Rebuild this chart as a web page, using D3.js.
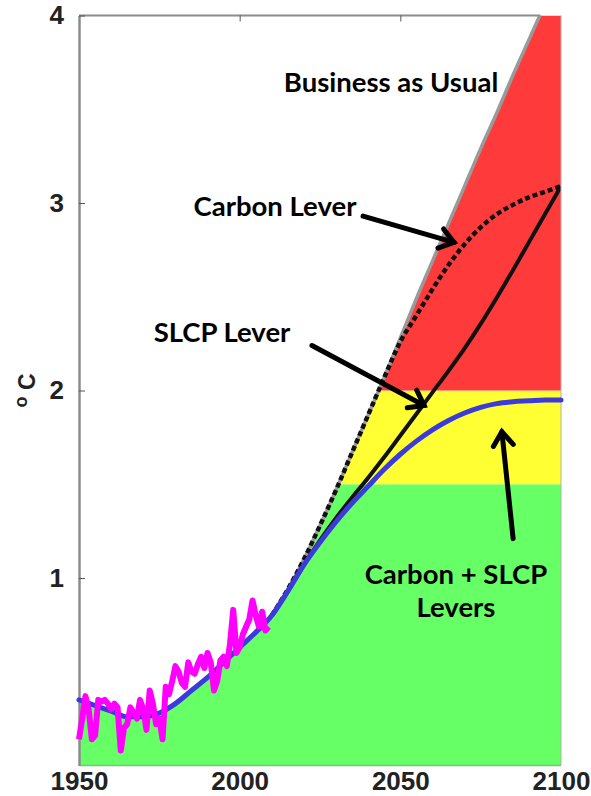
<!DOCTYPE html>
<html>
<head>
<meta charset="utf-8">
<script src="https://cdn.jsdelivr.net/npm/d3@7"></script>
<style>
  html, body { margin: 0; padding: 0; background: #fff; }
  svg { display: block; }
</style>
</head>
<body>
<svg id="chart" width="591" height="796"></svg>
<script>
// ---------- DATA ----------
const modelYears = [1950,1955,1960,1965,1970,1975,1980,1985,1990,1995,2000,2005,2010,2015,2020,2025,2030,2035,2040,2045,2050,2055,2060,2065,2070,2075,2080,2085,2090,2095,2100];
const businessAsUsual = [0.35,0.32,0.29,0.26,0.26,0.28,0.33,0.40,0.47,0.55,0.63,0.71,0.80,0.94,1.10,1.28,1.47,1.67,1.87,2.07,2.28,2.49,2.69,2.89,3.09,3.29,3.48,3.68,3.87,4.06,4.25];
const carbonLever     = [0.35,0.32,0.29,0.26,0.26,0.28,0.33,0.40,0.47,0.55,0.63,0.71,0.80,0.94,1.10,1.28,1.47,1.67,1.87,2.07,2.26,2.40,2.54,2.67,2.78,2.87,2.94,2.99,3.03,3.06,3.09];
const slcpLever       = [0.35,0.32,0.29,0.26,0.26,0.28,0.33,0.40,0.47,0.55,0.63,0.71,0.80,0.93,1.07,1.20,1.32,1.43,1.535,1.645,1.76,1.875,1.99,2.105,2.225,2.355,2.495,2.64,2.79,2.94,3.09];
const bothLevers      = [0.35,0.32,0.29,0.26,0.26,0.28,0.33,0.40,0.47,0.55,0.63,0.71,0.80,0.93,1.07,1.19,1.30,1.40,1.49,1.58,1.66,1.73,1.79,1.84,1.88,1.91,1.93,1.94,1.945,1.95,1.95];

const obsYears = d3.range(1950, 2010);
const observed = [0.14,0.25,0.37,0.30,0.14,0.16,0.35,0.34,0.35,0.33,
                  0.30,0.33,0.31,0.08,0.20,0.22,0.31,0.28,0.25,0.35,
                  0.30,0.19,0.40,0.33,0.22,0.25,0.14,0.42,0.38,0.45,
                  0.53,0.50,0.44,0.42,0.55,0.50,0.49,0.54,0.58,0.52,
                  0.60,0.55,0.40,0.45,0.56,0.58,0.53,0.65,0.83,0.60,
                  0.63,0.70,0.74,0.78,0.88,0.80,0.74,0.82,0.72,0.74];

const bandNames  = ["green","yellow","red"];
const bandLow    = [0, 1.5, 2];
const bandHigh   = [1.5, 2, 4];

const xTickValues = [1950, 2000, 2050, 2100];
const yTickValues = [1, 2, 3, 4];

const labels = [
  {text: "Business as Usual", year: 2047.1, value: 3.59},
  {text: "Carbon Lever",      year: 2011.0, value: 2.93},
  {text: "SLCP Lever",        year: 1994.5, value: 2.26},
  {text: "Carbon + SLCP",     year: 2067.3, value: 0.97},
  {text: "Levers",            year: 2067.3, value: 0.79}
];
const arrows = [
  {fromYear: 2038.4, fromValue: 2.93, toYear: 2066.7, toValue: 2.79},
  {fromYear: 2022.5, fromValue: 2.24, toYear: 2057.4, toValue: 1.92},
  {fromYear: 2085.1, fromValue: 1.21, toYear: 2081.6, toValue: 1.78}
];

// ---------- STYLE ----------
const bandColors = {green: "#66ff66", yellow: "#ffff33", red: "#ff3a3a"};

const svg = d3.select("#chart");
const pLeft = 79, pRight = 561, pTop = 15.5, pBottom = 765.5;

const x = d3.scaleLinear().domain([1950, 2100]).range([pLeft, pRight]);
const y = d3.scaleLinear().domain([0, 4]).range([pBottom, pTop]);

const defs = svg.append("defs");
defs.append("clipPath").attr("id", "plotClip")
  .append("rect").attr("x", pLeft).attr("y", pTop).attr("width", pRight - pLeft).attr("height", pBottom - pTop);

const bauArea = d3.area()
  .x((d, i) => x(modelYears[i]))
  .y0(y(0))
  .y1(d => y(d))
  .curve(d3.curveMonotoneX);
defs.append("clipPath").attr("id", "bauClip")
  .append("path").attr("d", bauArea(businessAsUsual));

// Bands
const plot = svg.append("g").attr("clip-path", "url(#plotClip)");
const bands = plot.append("g").attr("clip-path", "url(#bauClip)");
bandNames.forEach((name, i) => {
  bands.append("rect")
    .attr("x", x(1950)).attr("width", x(2100) - x(1950))
    .attr("y", y(bandHigh[i])).attr("height", y(bandLow[i]) - y(bandHigh[i]))
    .attr("fill", bandColors[name]);
});

// Frame / axes
const axisColor = "#8c8c8c";
svg.append("line").attr("x1", pLeft).attr("x2", x(2093.5)).attr("y1", pTop).attr("y2", pTop)
  .attr("stroke", axisColor).attr("stroke-width", 2);
svg.append("line").attr("x1", pLeft).attr("x2", pRight).attr("y1", pBottom).attr("y2", pBottom)
  .attr("stroke", "#7fbf7f").attr("stroke-width", 1.5);
svg.append("line").attr("x1", pRight).attr("x2", pRight).attr("y1", pTop).attr("y2", pBottom)
  .attr("stroke", "#b0b0b0").attr("stroke-width", 1);

const yAxis = svg.append("g").attr("transform", `translate(${pLeft},0)`)
  .call(d3.axisLeft(y).tickValues(yTickValues).tickSizeInner(-6).tickSizeOuter(0).tickPadding(15).tickFormat(d3.format("d")));
yAxis.select(".domain").attr("stroke", axisColor).attr("stroke-width", 2.5);
yAxis.selectAll(".tick line").attr("stroke", "#555").attr("stroke-width", 1);
yAxis.selectAll(".tick text")
  .attr("font-family", "'Liberation Sans', Arial, sans-serif")
  .attr("font-weight", "bold").attr("font-size", 26).attr("fill", "#222");

const topAxis = svg.append("g").attr("transform", `translate(0,${pTop})`)
  .call(d3.axisBottom(x).tickValues([2000, 2050]).tickSize(6).tickFormat(""));
topAxis.select(".domain").remove();
topAxis.selectAll(".tick line").attr("stroke", "#555");

const xAxis = svg.append("g").attr("transform", `translate(0,${pBottom})`)
  .call(d3.axisBottom(x).tickValues(xTickValues).tickSize(0).tickFormat(d3.format("d")));
xAxis.select(".domain").remove();
xAxis.selectAll(".tick text")
  .attr("dy", null).attr("y", 24)
  .attr("font-family", "'Liberation Sans', Arial, sans-serif")
  .attr("font-weight", "bold").attr("font-size", 26).attr("fill", "#222");

// Y axis title "o C"
const yTitle = svg.append("text")
  .attr("transform", `translate(35,${y(2.0)}) rotate(-90)`)
  .attr("text-anchor", "middle")
  .attr("font-family", "'Liberation Sans', Arial, sans-serif")
  .attr("font-weight", "bold").attr("font-size", 23).attr("fill", "#222");
yTitle.append("tspan").attr("dy", -8).attr("font-size", 18).text("o");
yTitle.append("tspan").attr("dy", 8).text(" C");

// Lines
const lineGen = (years) => d3.line()
  .x((d, i) => x(years[i]))
  .y(d => y(d))
  .curve(d3.curveMonotoneX);

const startIdx = modelYears.indexOf(2010);
const lateYears = modelYears.slice(startIdx);

plot.append("path").attr("d", lineGen(lateYears)(businessAsUsual.slice(startIdx)))
  .attr("fill", "none").attr("stroke", "#9a9a9a").attr("stroke-width", 3.5);
plot.append("path").attr("d", lineGen(lateYears)(carbonLever.slice(startIdx)))
  .attr("fill", "none").attr("stroke", "#111").attr("stroke-width", 4.5)
  .attr("stroke-dasharray", "5,3");
plot.append("path").attr("d", lineGen(lateYears)(slcpLever.slice(startIdx)))
  .attr("fill", "none").attr("stroke", "#111").attr("stroke-width", 4);
svg.append("path").attr("d", lineGen(modelYears)(bothLevers))
  .attr("fill", "none").attr("stroke", "#3b3bdc").attr("stroke-width", 5)
  .attr("stroke-linecap", "round");
svg.append("path").attr("d", d3.line().x((d, i) => x(obsYears[i])).y(d => y(d))(observed))
  .attr("fill", "none").attr("stroke", "#ff00ff").attr("stroke-width", 6)
  .attr("stroke-linejoin", "round");

// Arrows
const arrowG = svg.append("g").attr("stroke", "#000").attr("stroke-width", 5)
  .attr("stroke-linecap", "round").attr("fill", "none");
arrows.forEach(a => {
  const x1 = x(a.fromYear), y1 = y(a.fromValue), x2 = x(a.toYear), y2 = y(a.toValue);
  const ang = Math.atan2(y2 - y1, x2 - x1);
  const L = 17, spread = Math.PI / 5;
  arrowG.append("line").attr("x1", x1).attr("y1", y1).attr("x2", x2).attr("y2", y2);
  arrowG.append("path").attr("d",
    `M${x2 - L * Math.cos(ang - spread)},${y2 - L * Math.sin(ang - spread)}L${x2},${y2}L${x2 - L * Math.cos(ang + spread)},${y2 - L * Math.sin(ang + spread)}`)
    .attr("stroke-linejoin", "miter");
});

// Labels
svg.append("g").selectAll("text").data(labels).join("text")
  .attr("x", d => x(d.year)).attr("y", d => y(d.value))
  .attr("text-anchor", "middle")
  .attr("font-family", "Lato, 'Open Sans', sans-serif")
  .attr("font-weight", 700).attr("font-size", 27.5).attr("fill", "#000")
  .text(d => d.text);
</script>
</body>
</html>
